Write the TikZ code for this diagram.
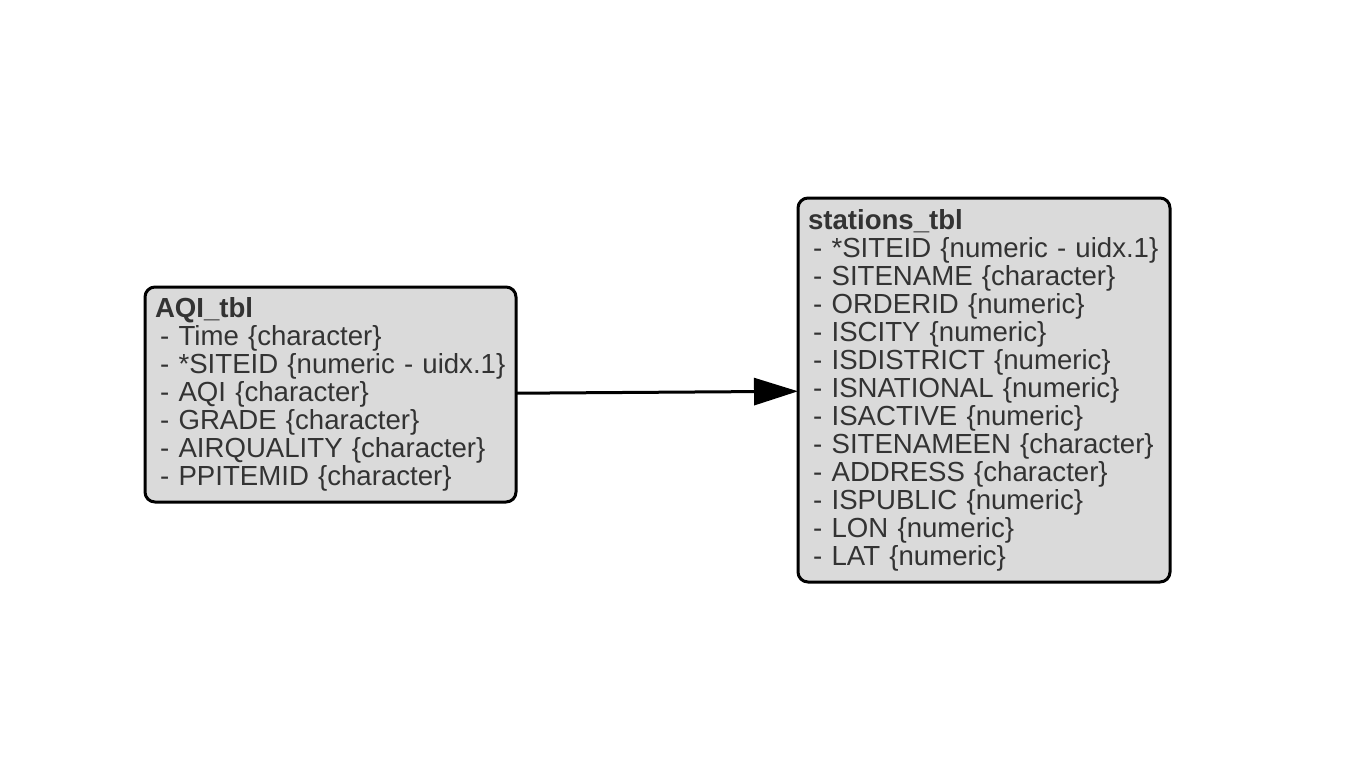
\documentclass[tikz,border=0pt]{standalone}
\usepackage{fontspec}
\setmainfont{Liberation Sans}
\usetikzlibrary{arrows.meta}
\definecolor{tblfill}{HTML}{DADADA}
\definecolor{tbltext}{HTML}{333333}
\tikzset{
  tbl/.style={draw=black, line width=1.5pt, rounded corners=5pt, fill=tblfill,
    text=tbltext, anchor=north west, align=left, inner xsep=3pt, inner ysep=0pt,
    outer sep=0pt, font=\fontsize{13.8}{14}\selectfont},
  fk/.style={line width=1.5pt, -{Triangle[length=22pt,width=13.5pt]}}
}
\newcommand{\tname}[1]{\hspace*{2pt}\textbf{#1}}
\newcommand{\fld}{\hspace*{4.6pt}- }

\begin{document}
\begin{tikzpicture}[x=0.5pt,y=-0.5pt]
  \useasboundingbox (0,0) rectangle (1358,756);

  % AQI table
  \node[tbl, text width=179.5pt, minimum width=185.5pt, minimum height=107.5pt] (aqi) at (145,287)
    {\tname{AQI\_tbl}\\
     \fld Time \{character\}\\
     \fld *SITEID \{numeric - uidx.1\}\\
     \fld AQI \{character\}\\
     \fld GRADE \{character\}\\
     \fld AIRQUALITY \{character\}\\
     \fld PPITEMID \{character\}};

  % stations table
  \node[tbl, text width=180pt, minimum width=186pt, minimum height=192pt] (stations) at (798,198)
    {\tname{stations\_tbl}\\
     \fld *SITEID \{numeric - uidx.1\}\\
     \fld SITENAME \{character\}\\
     \fld ORDERID \{numeric\}\\
     \fld ISCITY \{numeric\}\\
     \fld ISDISTRICT \{numeric\}\\
     \fld ISNATIONAL \{numeric\}\\
     \fld ISACTIVE \{numeric\}\\
     \fld SITENAMEEN \{character\}\\
     \fld ADDRESS \{character\}\\
     \fld ISPUBLIC \{numeric\}\\
     \fld LON \{numeric\}\\
     \fld LAT \{numeric\}};

  % link
  \draw[fk] (aqi) -- (stations);
\end{tikzpicture}
\end{document}
